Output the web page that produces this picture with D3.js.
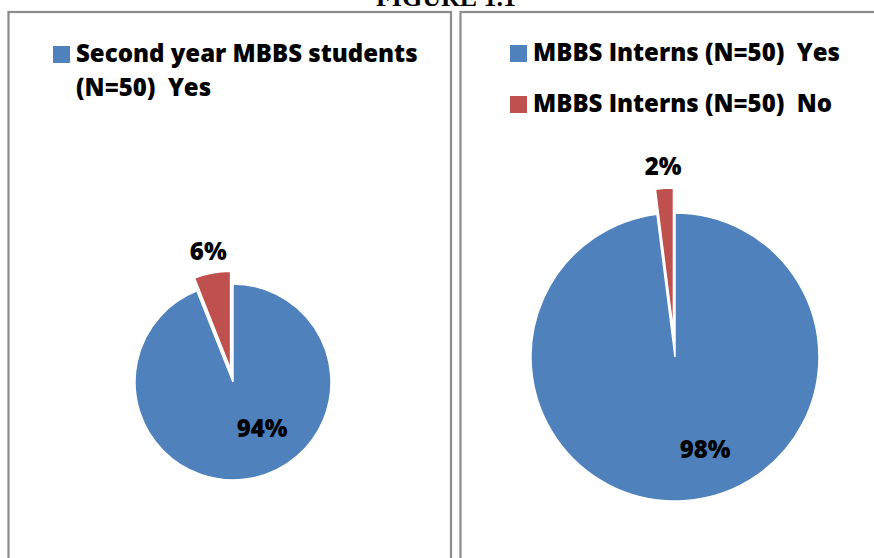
<!DOCTYPE html>
<html>
<head>
<meta charset="utf-8">
<script src="https://cdn.jsdelivr.net/npm/d3@7"></script>
<style>
  body { margin: 0; background: #fff; }
  svg text { white-space: pre; }
</style>
</head>
<body>
<script>
"use strict"
/* dati */
const titolo = "FIGURE 1.1";
const categorieStudenti = ["Second year MBBS students (N=50)  Yes", "Second year MBBS students (N=50)  No"];
const valoriStudenti = [94, 6];
const categorieInterni = ["MBBS Interns (N=50)  Yes", "MBBS Interns (N=50)  No"];
const valoriInterni = [98, 2];
const colori = ["#4f81bd", "#c0504d"];

const larghezza = 874, altezza = 558;
const font = "'Open Sans', 'DejaVu Sans', sans-serif";
const pesoFont = 800;
const dimFont = 24;

const svg = d3.select("body").append("svg")
    .attr("width", larghezza)
    .attr("height", altezza);

/* titolo, tagliato in alto come nell'originale */
svg.append("text")
    .attr("x", 446).attr("y", 6)
    .attr("text-anchor", "middle")
    .attr("font-family", "'Liberation Serif', 'Times New Roman', serif")
    .attr("font-weight", "bold")
    .attr("font-size", 26)
    .text(titolo);

/* un pannello = bordo + legenda + torta */
function disegnaPannello(cfg) {
    const g = svg.append("g");
    g.append("rect")
        .attr("x", cfg.x).attr("y", 12)
        .attr("width", cfg.w).attr("height", altezza + 20)
        .attr("fill", "none")
        .attr("stroke", "#8c8c8c")
        .attr("stroke-width", 2.2);

    const colore = d3.scaleOrdinal().domain(cfg.categorie).range(colori);

    /* legenda: righe già spezzate come nell'originale */
    const legenda = g.append("g").attr("transform", `translate(${cfg.legX},${cfg.legY})`);
    cfg.voci.forEach(function (voce, i) {
        const riga = legenda.append("g").attr("transform", `translate(0,${i * cfg.passoVoci})`);
        riga.append("rect")
            .attr("x", 0).attr("y", 0)
            .attr("width", 17).attr("height", 17)
            .attr("fill", colore(cfg.categorie[voce.indice]));
        voce.righe.forEach(function (testo, j) {
            riga.append("text")
                .attr("x", 23).attr("y", 16 + j * 34)
                .attr("font-family", font)
                .attr("font-weight", pesoFont)
                .attr("font-size", dimFont)
                .attr("fill", "#000")
                .text(testo);
        });
    });

    const torta = d3.pie().sort(null).value(function (d) { return d.valore });
    const spicchi = torta(cfg.categorie.map(function (c, i) { return { nome: c, valore: cfg.valori[i] } }));
    const arco = d3.arc().innerRadius(0).outerRadius(cfg.r);
    /* etichetta esterna: oltre il bordo dello spicchio esploso */
    const rEst = cfg.r + cfg.esplosione + 21;
    const arcoEtichetta = d3.arc().innerRadius(rEst).outerRadius(rEst);
    const gruppoTorta = g.append("g").attr("transform", `translate(${cfg.cx},${cfg.cy})`);
    const fmt = function (d) { return Math.round(d.data.valore) + "%" };

    spicchi.forEach(function (d, i) {
        const medio = (d.startAngle + d.endAngle) / 2;
        const esplodi = i === 0 ? 0 : cfg.esplosione;
        const dx = Math.sin(medio) * esplodi, dy = -Math.cos(medio) * esplodi;
        gruppoTorta.append("path")
            .attr("d", arco(d))
            .attr("transform", `translate(${dx},${dy})`)
            .attr("fill", colore(d.data.nome))
            .attr("stroke", "#fff")
            .attr("stroke-width", 1.5);

        let px, py;
        if (i === 0) { /* etichetta interna */
            const a = medio + cfg.spostaAngolo;
            const rr = cfg.r * cfg.fracInterna;
            px = Math.sin(a) * rr; py = -Math.cos(a) * rr;
        } else {
            const c = arcoEtichetta.centroid(d);
            px = c[0]; py = c[1];
        }
        gruppoTorta.append("text")
            .attr("x", px).attr("y", py + 8)
            .attr("text-anchor", "middle")
            .attr("font-family", font)
            .attr("font-weight", pesoFont)
            .attr("font-size", dimFont)
            .attr("fill", "#000")
            .text(fmt(d));
    });
}

disegnaPannello({
    x: 8.5, w: 442.5, categorie: categorieStudenti, valori: valoriStudenti,
    legX: 53, legY: 46, passoVoci: 50,
    voci: [{ indice: 0, righe: ["Second year MBBS students", "(N=50)  Yes"] }],
    cx: 233, cy: 382, r: 98, esplosione: 13, fracInterna: 0.56, spostaAngolo: -0.37
});

disegnaPannello({
    x: 460.5, w: 440, categorie: categorieInterni, valori: valoriInterni,
    legX: 510, legY: 45, passoVoci: 51,
    voci: [{ indice: 0, righe: [categorieInterni[0]] }, { indice: 1, righe: [categorieInterni[1]] }],
    cx: 675, cy: 357, r: 144, esplosione: 25, fracInterna: 0.68, spostaAngolo: -0.25
});
</script>
</body>
</html>
